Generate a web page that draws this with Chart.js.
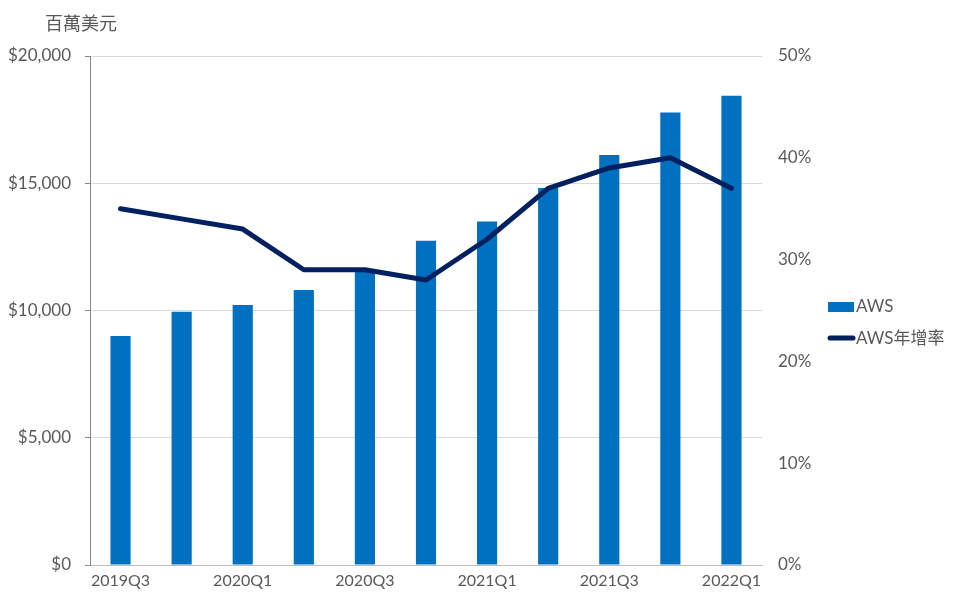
<!DOCTYPE html>
<html>
<head>
<meta charset="utf-8">
<script src="https://cdn.jsdelivr.net/npm/chart.js@4/dist/chart.umd.min.js"></script>
<style>
  html, body { margin: 0; padding: 0; background: #fff; }
  #wrap { position: relative; width: 960px; height: 608px; }
  #unit { position: absolute; left: 45px; top: 9px; font: 18px "Noto Sans CJK TC", sans-serif; color: #595959; }
</style>
</head>
<body>
<div id="wrap">
  <canvas id="awsChart" width="960" height="608"></canvas>
  <div id="unit">百萬美元</div>
</div>
<script>
// quarters, revenue in million USD, yoy growth in %
const quarters = ["2019Q3", "2019Q4", "2020Q1", "2020Q2", "2020Q3", "2020Q4",
                  "2021Q1", "2021Q2", "2021Q3", "2021Q4", "2022Q1"];
const awsRevenue = [9000, 9950, 10220, 10810, 11600, 12740, 13500, 14810, 16110, 17780, 18440];
const awsGrowth = [35, 34, 33, 29, 29, 28, 32, 37, 39, 40, 37];

const barColor = "#0070C0";
const lineColor = "#002060";
const textColor = "#595959";
const fontFamily = "Lato, 'Noto Sans CJK TC', sans-serif";

// draws the legend at the right side
const sideLegend = {
    id: "sideLegend",
    afterDraw(chart) {
        const ctx = chart.ctx;
        ctx.save();
        ctx.fillStyle = barColor;
        ctx.fillRect(828, 302, 26, 10);
        ctx.strokeStyle = lineColor;
        ctx.lineWidth = 5;
        ctx.lineCap = "round";
        ctx.beginPath();
        ctx.moveTo(830, 338);
        ctx.lineTo(853, 338);
        ctx.stroke();
        ctx.fillStyle = textColor;
        ctx.font = "17px " + fontFamily;
        ctx.textBaseline = "middle";
        ctx.fillText("AWS", 856, 307);
        ctx.fillText("AWS年增率", 856, 339);
        ctx.restore();
    }
};

const ctx = document.getElementById("awsChart").getContext("2d");

new Chart(ctx, {
    data: {
        labels: quarters,
        datasets: [
            {
                type: "line",
                label: "AWS年增率",
                data: awsGrowth,
                yAxisID: "y1",
                borderColor: lineColor,
                borderWidth: 5,
                borderCapStyle: "round",
                borderJoinStyle: "round",
                pointRadius: 0,
                tension: 0,
                order: 0
            },
            {
                type: "bar",
                label: "AWS",
                data: awsRevenue,
                yAxisID: "y",
                backgroundColor: barColor,
                categoryPercentage: 1,
                barPercentage: 0.33,
                order: 1
            }
        ]
    },
    options: {
        responsive: false,
        animation: false,
        layout: { padding: { top: 56, right: 140, bottom: 0, left: 0 } },
        plugins: {
            legend: { display: false },
            tooltip: { enabled: false }
        },
        scales: {
            x: {
                grid: { display: false, drawTicks: false },
                border: { color: "#bfbfbf", width: 1 },
                ticks: {
                    autoSkip: false,
                    maxRotation: 0,
                    padding: 6,
                    color: textColor,
                    font: { family: fontFamily, size: 16 },
                    callback: function (val, i) {
                        return i % 2 === 0 ? quarters[i] : "";
                    }
                },
                afterFit: function (scale) { scale.height = 43; }
            },
            y: {
                position: "left",
                min: 0,
                max: 20000,
                ticks: {
                    stepSize: 5000,
                    padding: 14,
                    color: textColor,
                    font: { family: fontFamily, size: 17 },
                    callback: v => "$" + v.toLocaleString("en-US")
                },
                grid: { color: "#d9d9d9", tickLength: 5, tickColor: "#868686" },
                border: { color: "#868686", width: 1 },
                afterFit: function (scale) { scale.width = 90; }
            },
            y1: {
                position: "right",
                min: 0,
                max: 50,
                ticks: {
                    stepSize: 10,
                    padding: 16,
                    color: textColor,
                    font: { family: fontFamily, size: 17 },
                    callback: v => v + "%"
                },
                grid: { display: false, drawTicks: false },
                border: { display: false },
                afterFit: function (scale) { scale.width = 58; }
            }
        }
    },
    plugins: [sideLegend]
});
</script>
</body>
</html>
